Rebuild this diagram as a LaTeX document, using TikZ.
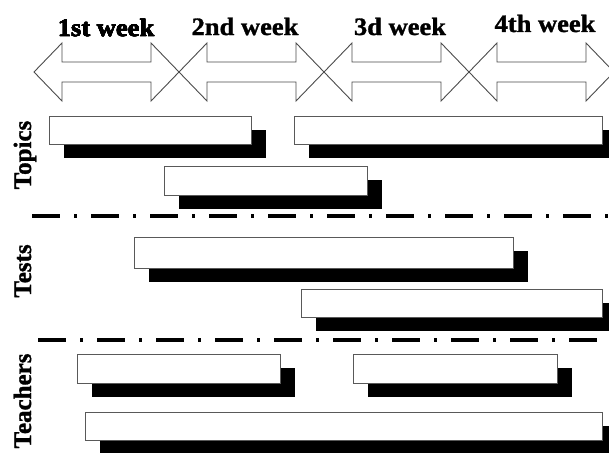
\documentclass[tikz,border=0pt]{standalone}
\usepackage{fontspec}
\setmainfont{Liberation Serif}[BoldFeatures={FakeBold=1.2}]
\tikzset{
  weekarrow/.style={draw=black!70,line width=0.9pt,fill=white,line join=miter},
  taskbox/.style={draw=black!65,line width=1pt,fill=white},
  taskshadow/.style={fill=black},
  divider/.style={line width=4pt,dash pattern=on 28pt off 14pt on 3pt off 14pt},
  weeklabel/.style={font=\fontsize{25}{25}\selectfont\bfseries,anchor=base,inner sep=0pt,xscale=1.06},
  grouplabel/.style={font=\fontsize{25}{25}\selectfont\bfseries,anchor=base,rotate=90,inner sep=0pt}
}
% one double arrow for a week: left tip x, right tip x
\newcommand{\weekspan}[2]{%
  \draw[weekarrow] (#1,72) -- ++(28,-29) -- ++(0,19) -- (#2-28,62) -- ++(0,-19)
    -- (#2,72) -- (#2-28,101) -- ++(0,-19) -- (#1+28,82) -- ++(0,19) -- cycle;}
% one task bar with its shadow
\newcommand{\taskbar}[4]{%
  \fill[taskshadow] (#1+15,#2+14) rectangle (#3+15,#4+14);
  \draw[taskbox] (#1,#2) rectangle (#3,#4);}
\begin{document}
\begin{tikzpicture}[x=1pt,y=-1pt]
  \clip (0,0) rectangle (609,452);
  \fill[white] (0,0) rectangle (609,452);
  % Weeks
  \foreach \w in {0,1,2,3}
    \weekspan{34+145*\w}{179+145*\w}
  \node[weeklabel] (week1) at (106,36) {1st week};
  \node[weeklabel] (week2) at (245,35) {2nd week};
  \node[weeklabel] (week3) at (400,35) {3d week};
  \node[weeklabel] (week4) at (545,32) {4th week};
  % Topics
  \taskbar{49}{116}{251}{144}
  \taskbar{294}{116}{602}{144}
  \taskbar{164}{166}{367}{195}
  \node[grouplabel] (topics) at (31,155) {Topics};
  \draw[divider] (32,215.5) -- (640,215.5);
  % Tests
  \taskbar{134}{237}{513}{268}
  \taskbar{301}{289}{602}{317}
  \node[grouplabel] (tests) at (31,271) {Tests};
  \draw[divider] (38,339.5) -- (640,339.5);
  % Teachers
  \taskbar{77}{354}{280}{383}
  \taskbar{353}{354}{557}{383}
  \taskbar{85}{412}{602}{440}
  \node[grouplabel] (teachers) at (31,401) {Teachers};
\end{tikzpicture}
\end{document}
